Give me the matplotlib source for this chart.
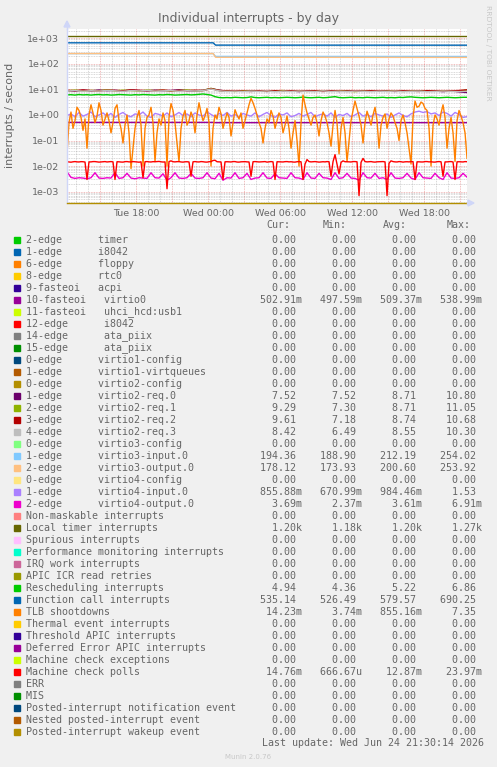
import numpy as np
import matplotlib
matplotlib.use("Agg")
import matplotlib.pyplot as plt
from matplotlib.patches import Rectangle, Polygon
from matplotlib.lines import Line2D
from matplotlib.ticker import FixedLocator, MultipleLocator, LogLocator, NullFormatter

W, H = 497, 767

# time axis in hours since Tue 00:00
t_start = 12.22
t_end = 45.55
t10 = t_start + np.arange(201) / 6.0      # 10 min samples
t = t_start + np.arange(101) / 3.0        # 20 min samples
t_band = t_start + np.arange(51) * 2 / 3.0  # 40 min samples

# ---- series ----
tlb = [0.03, 0.5, 1.3, 0.3, 0.6, 2.0, 1.5, 0.8, 0.25, 0.7,
       0.05, 1.0, 2.5, 1.2, 0.5, 0.9, 3.0, 1.5, 0.4, 0.7,
       1.2, 0.6, 0.2, 0.5, 1.8, 2.5, 0.6, 0.3, 0.08, 0.4,
       1.0, 0.2, 0.008, 0.05, 0.3, 0.8, 1.5, 0.4, 0.01, 0.3,
       0.8, 1.0, 2.0, 0.5, 0.015, 0.2, 0.7, 0.4, 1.2, 0.6,
       0.01, 0.8, 2.8, 1.5, 0.5, 0.08, 0.015, 0.3, 0.9, 1.5,
       0.4, 0.6, 1.3, 0.8, 0.2, 1.0, 3.0, 1.2, 0.6, 0.9,
       1.8, 0.5, 0.01, 0.3, 1.0, 0.7, 2.0, 1.1, 0.3, 0.6,
       1.2, 0.8, 0.15, 0.5, 1.6, 1.0, 0.7, 1.2, 0.3, 0.6,
       1.2, 2.5, 4.5, 3.0, 1.8, 1.0, 0.5, 0.3, 0.08, 0.3,
       0.7, 0.5, 1.5, 0.9, 0.3, 0.6, 1.2, 0.8, 0.2, 0.4,
       0.9, 0.3, 0.05, 0.2, 0.6, 0.1, 0.01, 0.5, 6.0, 2.5,
       1.2, 0.7, 0.4, 0.8, 1.0, 0.5, 0.15, 0.6, 1.3, 0.9,
       0.5, 0.2, 0.06, 0.4, 1.5, 0.5, 0.03, 0.3, 0.8, 0.2,
       0.015, 0.1, 0.6, 1.5, 3.5, 1.8, 0.9, 0.4, 0.08, 0.5,
       1.4, 0.8, 0.4, 1.0, 2.0, 0.6, 0.05, 0.4, 0.8, 1.1,
       0.3, 0.7, 1.2, 0.9, 0.5, 0.3, 0.1, 0.6, 1.0, 0.5,
       0.2, 0.05, 0.012, 0.8, 3.5, 2.0, 2.2, 3.2, 2.8, 1.8,
       1.5, 0.3, 0.01, 0.4, 1.0, 0.7, 0.4, 1.2, 2.5, 0.8,
       0.05, 0.3, 0.8, 0.2, 0.015, 0.6, 1.5, 0.9, 0.5, 0.2,
       0.02]

mc_polls = [0.0148, 0.0145, 0.0142, 0.0147, 0.0150, 0.0146, 0.0145, 0.0149, 0.0148, 0.0144,
            0.0030, 0.0146, 0.0146, 0.0150, 0.0150, 0.0147, 0.0143, 0.0145, 0.0148, 0.0150,
            0.0145, 0.0147, 0.0150, 0.0146, 0.0030, 0.0148, 0.0147, 0.0144, 0.0143, 0.0149,
            0.0150, 0.0146, 0.0146, 0.0150, 0.0148, 0.0145, 0.0142, 0.0147, 0.0035, 0.0148,
            0.0150, 0.0146, 0.0145, 0.0149, 0.0148, 0.0150, 0.0152, 0.0147, 0.0144, 0.0146,
            0.0013, 0.0150, 0.0160, 0.0148, 0.0146, 0.0149, 0.0150, 0.0145, 0.0143, 0.0147,
            0.0148, 0.0145, 0.0040, 0.0147, 0.0150, 0.0146, 0.0145, 0.0150, 0.0148, 0.0144,
            0.0143, 0.0148, 0.0150, 0.0165, 0.0170, 0.0148, 0.0146, 0.0145, 0.0030, 0.0147,
            0.0148, 0.0146, 0.0145, 0.0150, 0.0150, 0.0144, 0.0143, 0.0147, 0.0148, 0.0149,
            0.0146, 0.0145, 0.0040, 0.0148, 0.0150, 0.0147, 0.0145, 0.0146, 0.0148, 0.0150,
            0.0143, 0.0147, 0.0150, 0.0146, 0.0030, 0.0148, 0.0147, 0.0145, 0.0145, 0.0149,
            0.0150, 0.0146, 0.0148, 0.0144, 0.0143, 0.0148, 0.0150, 0.0147, 0.0030, 0.0120,
            0.0180, 0.0150, 0.0146, 0.0148, 0.0150, 0.0147, 0.0143, 0.0145, 0.0148, 0.0146,
            0.0150, 0.0148, 0.0040, 0.0150, 0.0280, 0.0120, 0.0050, 0.0140, 0.0160, 0.0148,
            0.0148, 0.0146, 0.0145, 0.0150, 0.0150, 0.0147, 0.0007, 0.0140, 0.0200, 0.0150,
            0.0146, 0.0148, 0.0150, 0.0145, 0.0143, 0.0147, 0.0148, 0.0150, 0.0150, 0.0146,
            0.0007, 0.0130, 0.0160, 0.0150, 0.0146, 0.0145, 0.0150, 0.0148, 0.0143, 0.0147,
            0.0148, 0.0146, 0.0150, 0.0149, 0.0030, 0.0147, 0.0147, 0.0145, 0.0145, 0.0150,
            0.0150, 0.0146, 0.0148, 0.0144, 0.0143, 0.0148, 0.0150, 0.0147, 0.0040, 0.0146,
            0.0146, 0.0149, 0.0150, 0.0145, 0.0030, 0.0147, 0.0148, 0.0146, 0.0145, 0.0150,
            0.0148]

v4_out = [0.0060, 0.0036, 0.0033, 0.0035, 0.0034, 0.0032, 0.0035, 0.0055, 0.0034, 0.0033,
          0.0035, 0.0034, 0.0055, 0.0033, 0.0035, 0.0052, 0.0034, 0.0032, 0.0035, 0.0034,
          0.0033, 0.0055, 0.0035, 0.0034, 0.0050, 0.0028, 0.0035, 0.0055, 0.0034, 0.0033,
          0.0035, 0.0052, 0.0034, 0.0033, 0.0035, 0.0055, 0.0034, 0.0032, 0.0052, 0.0028,
          0.0035, 0.0034, 0.0055, 0.0033, 0.0035, 0.0052, 0.0030, 0.0034, 0.0035, 0.0055,
          0.0034, 0.0033, 0.0050, 0.0035, 0.0034, 0.0033, 0.0055, 0.0035, 0.0034, 0.0030,
          0.0055, 0.0034, 0.0033, 0.0052, 0.0035, 0.0034, 0.0030, 0.0055, 0.0033, 0.0035,
          0.0052, 0.0034, 0.0033, 0.0028, 0.0055, 0.0035, 0.0034, 0.0052, 0.0033, 0.0035,
          0.0030, 0.0055, 0.0034, 0.0033, 0.0035, 0.0052, 0.0034, 0.0030, 0.0055, 0.0035,
          0.0034, 0.0033, 0.0052, 0.0035, 0.0030, 0.0055, 0.0034, 0.0033, 0.0035, 0.0052, 0.0037]

v4_in = [0.95, 1.10, 0.85, 1.25, 0.90, 1.05, 1.30, 0.85, 1.00, 1.20,
         0.90, 1.15, 0.80, 1.05, 1.25, 0.95, 0.85, 1.10, 1.00, 1.30,
         0.90, 0.80, 1.15, 1.05, 0.90, 1.20, 0.85, 1.00, 1.25, 0.95,
         1.10, 0.85, 1.20, 1.00, 0.90, 1.30, 1.05, 0.85, 1.15, 0.95,
         1.25, 0.90, 1.05, 0.80, 1.15, 1.00, 0.90, 1.20, 0.85, 1.05,
         1.25, 0.95, 0.80, 1.10, 1.00, 1.20, 0.85, 0.95, 1.15, 0.90,
         1.05, 1.25, 0.85, 1.00, 1.10, 0.90, 1.20, 0.80, 1.05, 0.95,
         1.15, 0.85, 1.00, 1.25, 0.90, 1.05, 0.85, 1.15, 1.00, 0.90,
         1.10, 0.80, 1.00, 1.20, 0.95, 0.85, 1.10, 1.30, 1.40, 1.25,
         1.35, 1.10, 1.20, 0.95, 1.30, 1.15, 0.90, 1.25, 1.05, 0.80, 0.86]

resched = [6.1, 6.2, 6.0, 6.3, 6.1, 6.2, 6.0, 6.2, 6.3, 6.1,
           6.2, 6.0, 6.1, 6.3, 6.2, 6.1, 6.0, 6.2, 6.1, 6.3,
           6.2, 6.1, 6.0, 6.2, 6.1, 6.3, 6.2, 6.0, 6.1, 6.2,
           6.3, 6.1, 6.2, 6.4, 6.6, 6.3, 6.0,
           5.2, 4.8, 4.7, 4.8, 4.7, 4.9, 4.8, 4.7, 4.8, 5.1,
           4.8, 4.7, 4.8, 4.9, 4.7, 4.8, 4.7, 4.8, 4.9, 4.8,
           4.7, 4.8, 5.0, 4.8, 4.7, 4.8, 4.9, 4.7, 4.8, 5.0,
           5.2, 4.8, 4.7, 4.8, 4.9, 4.7, 4.8, 4.7, 4.9, 4.8,
           4.7, 4.8, 4.9, 4.7, 4.8, 4.7, 4.9, 4.8, 5.0, 5.1,
           4.9, 4.8, 4.7, 4.8, 4.9, 4.8, 4.7, 4.8, 4.9, 4.8,
           4.7, 4.8, 4.9, 4.9]

req0 = [9.0, 8.6, 9.3, 8.8, 9.5, 8.9, 9.2, 8.7, 9.4, 9.0,
        8.8, 9.3, 8.9, 9.1, 9.6, 9.0, 8.7, 9.2, 10.8, 9.3,
        8.5, 8.8, 8.4, 8.9, 8.6, 8.3, 8.8, 8.5, 8.7, 8.2,
        8.9, 8.4, 8.6, 8.8, 8.3, 8.7, 8.5, 8.9, 8.4, 8.6,
        8.8, 8.3, 8.7, 8.5, 8.9, 8.4, 8.6, 8.2, 8.7, 8.0, 7.52]
req1 = [8.8, 9.4, 8.7, 9.1, 8.9, 9.6, 8.8, 9.3, 9.0, 8.6,
        9.4, 8.9, 9.2, 8.7, 9.0, 9.5, 8.8, 9.1, 11.0, 9.0,
        8.7, 8.3, 8.9, 8.5, 8.8, 8.4, 8.7, 9.0, 8.5, 8.8,
        8.3, 8.7, 8.6, 8.4, 8.9, 8.5, 8.2, 8.7, 8.8, 8.4,
        8.6, 8.9, 8.3, 8.7, 8.5, 8.8, 8.4, 8.9, 8.6, 8.8, 9.29]
req2 = [9.2, 8.9, 9.5, 9.0, 8.7, 9.3, 9.1, 8.8, 9.6, 9.2,
        8.9, 9.0, 9.4, 8.8, 9.2, 8.9, 9.3, 9.0, 10.6, 9.1,
        8.6, 8.9, 8.5, 8.3, 8.9, 8.6, 8.8, 8.4, 8.9, 8.6,
        8.7, 8.8, 8.3, 8.9, 8.6, 8.4, 8.8, 8.5, 8.9, 8.7,
        8.4, 8.6, 8.8, 8.5, 8.3, 8.9, 8.7, 8.5, 8.8, 9.0, 9.61]
req3 = [8.7, 9.0, 8.5, 8.9, 8.6, 9.1, 8.8, 8.4, 9.0, 8.7,
        9.1, 8.6, 8.8, 9.0, 8.5, 8.9, 8.7, 9.0, 10.3, 8.8,
        8.3, 8.6, 8.2, 8.5, 8.4, 8.7, 8.1, 8.5, 8.3, 8.6,
        8.4, 8.2, 8.7, 8.3, 8.5, 8.1, 8.6, 8.4, 8.2, 8.5,
        8.3, 8.6, 8.2, 8.4, 8.5, 8.1, 8.3, 8.6, 8.4, 8.2, 8.42]

# near-flat series: (hour, value) breakpoints
step_t = [12.22, 24.40, 24.60, 45.55]
local_timer = [1200, 1200, 1200, 1200]
func_call = [662, 662, 538, 535]
v3_in = [250, 250, 195, 194]
v3_out = [252, 252, 180, 178]
virtio0 = [0.51, 0.51, 0.50, 0.50]

# ---- legend ----
labels = [
    "2-edge      timer", "1-edge      i8042", "6-edge      floppy", "8-edge      rtc0",
    "9-fasteoi   acpi", "10-fasteoi   virtio0", "11-fasteoi   uhci_hcd:usb1",
    "12-edge      i8042", "14-edge      ata_piix", "15-edge      ata_piix",
    "0-edge      virtio1-config", "1-edge      virtio1-virtqueues",
    "0-edge      virtio2-config", "1-edge      virtio2-req.0", "2-edge      virtio2-req.1",
    "3-edge      virtio2-req.2", "4-edge      virtio2-req.3", "0-edge      virtio3-config",
    "1-edge      virtio3-input.0", "2-edge      virtio3-output.0", "0-edge      virtio4-config",
    "1-edge      virtio4-input.0", "2-edge      virtio4-output.0",
    "Non-maskable interrupts", "Local timer interrupts", "Spurious interrupts",
    "Performance monitoring interrupts", "IRQ work interrupts", "APIC ICR read retries",
    "Rescheduling interrupts", "Function call interrupts", "TLB shootdowns",
    "Thermal event interrupts", "Threshold APIC interrupts", "Deferred Error APIC interrupts",
    "Machine check exceptions", "Machine check polls", "ERR", "MIS",
    "Posted-interrupt notification event", "Nested posted-interrupt event",
    "Posted-interrupt wakeup event",
]

cur = [0, 0, 0, 0, 0, 0.50291, 0, 0, 0, 0,
       0, 0, 0, 7.52, 9.29, 9.61, 8.42, 0, 194.36, 178.12,
       0, 0.85588, 0.00369, 0, 1200, 0, 0, 0, 0, 4.94,
       535.14, 0.01423, 0, 0, 0, 0, 0.01476, 0, 0, 0, 0, 0]
mins = [0, 0, 0, 0, 0, 0.49759, 0, 0, 0, 0,
        0, 0, 0, 7.52, 7.30, 7.18, 6.49, 0, 188.90, 173.93,
        0, 0.67099, 0.00237, 0, 1180, 0, 0, 0, 0, 4.36,
        526.49, 0.00374, 0, 0, 0, 0, 0.00066667, 0, 0, 0, 0, 0]
avgs = [0, 0, 0, 0, 0, 0.50937, 0, 0, 0, 0,
        0, 0, 0, 8.71, 8.71, 8.74, 8.55, 0, 212.19, 200.60,
        0, 0.98446, 0.00361, 0, 1200, 0, 0, 0, 0, 5.22,
        579.57, 0.85516, 0, 0, 0, 0, 0.01287, 0, 0, 0, 0, 0]
maxs = [0, 0, 0, 0, 0, 0.53899, 0, 0, 0, 0,
        0, 0, 0, 10.80, 11.05, 10.68, 10.30, 0, 254.02, 253.92,
        0, 1.53, 0.00691, 0, 1270, 0, 0, 0, 0, 6.86,
        690.25, 7.35, 0, 0, 0, 0, 0.02397, 0, 0, 0, 0, 0]

palette = ["#00CC00", "#0066B3", "#FF8000", "#FFCC00", "#330099", "#990099", "#CCFF00",
           "#FF0000", "#808080", "#008F00", "#00487D", "#B35A00", "#B38F00", "#6B006B",
           "#8FB300", "#B30000", "#BEBEBE", "#80FF80", "#80C9FF", "#FFC080", "#FFE680",
           "#AA80FF", "#EE00CC", "#FF8080", "#666600", "#FFBFFF", "#00FFCC", "#CC6699",
           "#999900"]
colors = palette + palette[:13]

FONT = "#666666"
MONO = "DejaVu Sans Mono"


def si(v):
    if v == 0:
        return "  0.00 "
    for f, p in [(1e3, "k"), (1.0, " "), (1e-3, "m"), (1e-6, "u")]:
        if abs(v) >= f:
            return f"{v / f:6.2f}{p}"
    return f"{v:6.2f} "


def fx(x):
    return x / W


def fy(y):
    return 1 - y / H


fig = plt.figure(figsize=(W / 100, H / 100), dpi=100, facecolor="#F0F0F0")
ax = fig.add_axes([fx(67), fy(203), 400 / W, 174 / H])
ax.set_facecolor("white")
ax.set_yscale("log")
ax.set_xlim(t_start, t_end)
ax.set_ylim(3.6e-4, 2.3e3)

lw = 1.0
ax.plot(step_t, virtio0, color=colors[5], lw=lw)
ax.plot(t_band, req0, color=colors[13], lw=lw)
ax.plot(t_band, req1, color=colors[14], lw=lw)
ax.plot(t_band, req2, color=colors[15], lw=lw)
ax.plot(t_band, req3, color=colors[16], lw=lw)
ax.plot(step_t, v3_in, color=colors[18], lw=lw)
ax.plot(step_t, v3_out, color=colors[19], lw=lw)
ax.plot(t, v4_in, color=colors[21], lw=lw)
ax.plot(t, v4_out, color=colors[22], lw=lw)
ax.plot(step_t, local_timer, color=colors[24], lw=lw)
ax.plot(t, resched, color=colors[29], lw=lw)
ax.plot(step_t, func_call, color=colors[30], lw=lw)
ax.plot(t10, tlb, color=colors[31], lw=lw)
ax.plot(t10, mc_polls, color=colors[36], lw=lw)

# grid
dot = (0, (1, 1))
ax.xaxis.set_major_locator(MultipleLocator(3))
ax.xaxis.set_minor_locator(MultipleLocator(1))
xt = ax.get_xticks()
tick_names = {18: "Tue 18:00", 24: "Wed 00:00", 30: "Wed 06:00", 36: "Wed 12:00", 42: "Wed 18:00"}
ax.set_xticks(xt)
ax.set_xticklabels([tick_names.get(int(round(v)), "") for v in xt])
ax.set_xlim(t_start, t_end)
decades = [1e-3, 1e-2, 1e-1, 1e0, 1e1, 1e2, 1e3]
ax.yaxis.set_major_locator(FixedLocator(decades))
ax.set_yticklabels([f"{v:.0e}" for v in decades])
ax.yaxis.set_minor_locator(LogLocator(subs=np.arange(2, 10)))
ax.yaxis.set_minor_formatter(NullFormatter())
ax.grid(which="major", color="#E06060", alpha=0.55, lw=0.6, ls=dot)
ax.grid(which="minor", color="#8C8C8C", alpha=0.45, lw=0.6, ls=dot)
ax.set_axisbelow(True)
ax.tick_params(which="both", length=0, labelsize=6.8, labelcolor=FONT)
ax.tick_params(axis="y", pad=5.5)
ax.tick_params(axis="x", pad=4)

for s in ["top", "right"]:
    ax.spines[s].set_visible(False)
ax.spines["left"].set_color("#CFD6F8")
ax.spines["bottom"].set_color("#B38F00")
ax.spines["left"].set_linewidth(1)
ax.spines["bottom"].set_linewidth(1)

axis_c = "#CFD6F8"
fig.add_artist(Line2D([fx(67), fx(67)], [fy(29), fy(25)], color=axis_c, lw=1))
fig.add_artist(Line2D([fx(467), fx(470)], [fy(203), fy(203)], color=axis_c, lw=1))
fig.add_artist(Polygon([(fx(64), fy(27)), (fx(70), fy(27)), (fx(67), fy(21))],
                       closed=True, color=axis_c, transform=fig.transFigure))
fig.add_artist(Polygon([(fx(468), fy(200)), (fx(468), fy(206)), (fx(474), fy(203))],
                       closed=True, color=axis_c, transform=fig.transFigure))

# texts
fig.text(fx(248.5), fy(18.7), "Individual interrupts - by day", ha="center", va="center",
         fontsize=9, color=FONT)
fig.text(fx(10), fy(115), "interrupts / second", rotation=90, ha="center", va="center",
         fontsize=8, color=FONT)
fig.text(fx(488), fy(53), "RRDTOOL / TOBI OETIKER", rotation=270, ha="center", va="center",
         fontsize=5.4, color="#C8C8C8")

for x0, name in zip([266.7, 322.7, 382.7, 446.7], ["Cur:", "Min:", "Avg:", "Max:"]):
    fig.text(fx(x0), fy(225.5), name, ha="left", va="center", fontsize=7.2,
             family=MONO, color=FONT)

for i, lab in enumerate(labels):
    y = 239.7 + 12 * i
    fig.add_artist(Rectangle((fx(14), fy(y + 3)), 6 / W, 6 / H, color=colors[i],
                             transform=fig.transFigure))
    row = lab.ljust(39) + "   ".join(si(v) for v in (cur[i], mins[i], avgs[i], maxs[i]))
    fig.text(fx(26.3), fy(y), row, ha="left", va="center", fontsize=7.2,
             family=MONO, color=FONT)

fig.text(fx(261.7), fy(743), "Last update: Wed Jun 24 21:30:14 2026", ha="left",
         va="center", fontsize=7.2, family=MONO, color=FONT)
fig.text(fx(248.5), fy(757), "Munin 2.0.76", ha="center", va="center", fontsize=5,
         color="#C8C8C8")

fig.savefig("out.png", dpi=100, facecolor=fig.get_facecolor())
